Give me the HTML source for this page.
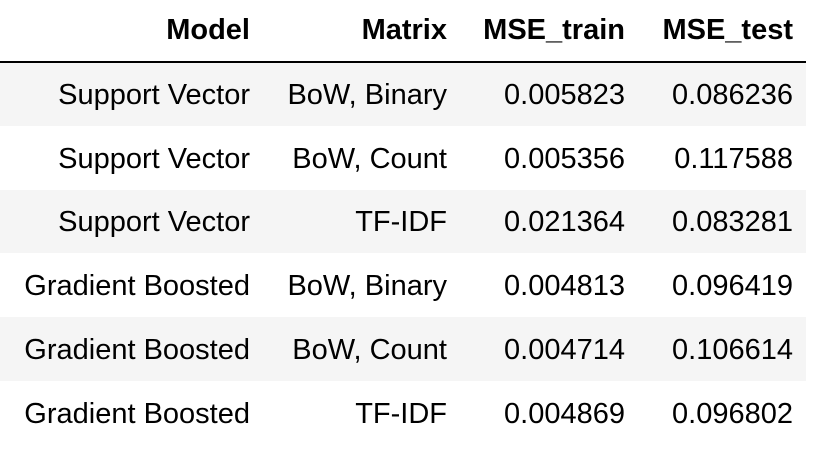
<!DOCTYPE html>
<html><head><meta charset="utf-8"><style>
body{margin:0;width:826px;height:455px;background:#fff;overflow:hidden;font-family:"Liberation Sans",Arial,sans-serif;font-size:29px;color:#000}
table{position:absolute;left:0;top:0;border-collapse:collapse;width:806px;table-layout:fixed}
th,td{text-align:right;padding:0 13px 0 0;white-space:nowrap}
th{height:62px;font-weight:bold;border-bottom:2px solid #000;padding-bottom:1px;box-sizing:border-box}
td{height:63.8px;padding-top:3px;box-sizing:border-box}
tbody tr:nth-child(odd){background:#f5f5f5}
</style></head><body>
<table>
<colgroup><col style="width:263px"><col style="width:197px"><col style="width:178px"><col style="width:168px"></colgroup>
<thead><tr><th>Model</th><th>Matrix</th><th>MSE_train</th><th>MSE_test</th></tr></thead>
<tbody>
<tr><td>Support Vector</td><td>BoW, Binary</td><td>0.005823</td><td>0.086236</td></tr>
<tr><td>Support Vector</td><td>BoW, Count</td><td>0.005356</td><td>0.117588</td></tr>
<tr><td>Support Vector</td><td>TF-IDF</td><td>0.021364</td><td>0.083281</td></tr>
<tr><td>Gradient Boosted</td><td>BoW, Binary</td><td>0.004813</td><td>0.096419</td></tr>
<tr><td>Gradient Boosted</td><td>BoW, Count</td><td>0.004714</td><td>0.106614</td></tr>
<tr><td>Gradient Boosted</td><td>TF-IDF</td><td>0.004869</td><td>0.096802</td></tr>
</tbody></table>
</body></html>
